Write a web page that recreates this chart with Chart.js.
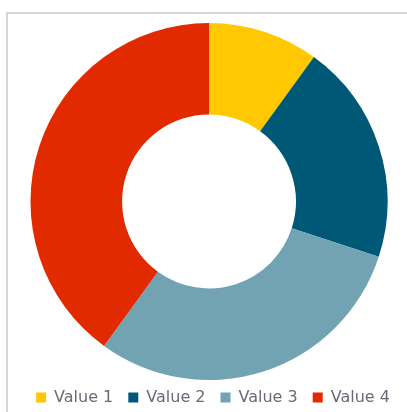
<!DOCTYPE html>
<html>
<head>
<meta charset="utf-8">
<script src="https://cdn.jsdelivr.net/npm/chart.js@4.4.1/dist/chart.umd.min.js"></script>
<style>
  html, body { margin: 0; padding: 0; background: #fff; overflow: hidden; }
  body { width: 407px; height: 412px; position: relative; }
  .rule { position: absolute; background: #d6d6d6; }
  .rule.top { left: 6px; top: 12px; width: 401px; height: 2px; }
  .rule.left { left: 6px; top: 12px; width: 2px; height: 400px; }
  #myChart { position: absolute; left: 0; top: 0; }
</style>
</head>
<body>
<div class="rule top"></div>
<div class="rule left"></div>
<canvas id="myChart" width="407" height="412"></canvas>
<script>
const labels = ['Value 1', 'Value 2', 'Value 3', 'Value 4'];
const values = [10, 20, 30, 40];
const colors = ['#FFC800', '#005877', '#72A3B3', '#E22A00'];

// nudge the legend a few px right, the ring stays put
const legendShift = {
  id: 'legendShift',
  afterLayout(chart) {
    chart.legend.left += 4;
    chart.legend.right += 4;
  }
};

const ctx = document.getElementById('myChart').getContext('2d');
const chart = new Chart(ctx, {
  type: 'doughnut',
  data: {
    labels,
    datasets: [
      {
        data: values,
        backgroundColor: colors,
        borderWidth: 0
      }
    ]
  },
  options: {
    responsive: false,
    animation: false,
    radius: 178.5,
    cutout: '48.7%',
    layout: {
      padding: { left: 11, right: 0, top: 28.5, bottom: 0 }
    },
    plugins: {
      legend: {
        position: 'bottom',
        maxHeight: 37.5,
        labels: {
          boxWidth: 10,
          boxHeight: 10,
          padding: 15,
          color: '#6b6b78',
          font: { family: 'DejaVu Sans', size: 16 }
        }
      },
      tooltip: { enabled: false }
    }
  },
  plugins: [legendShift]
});
</script>
</body>
</html>
